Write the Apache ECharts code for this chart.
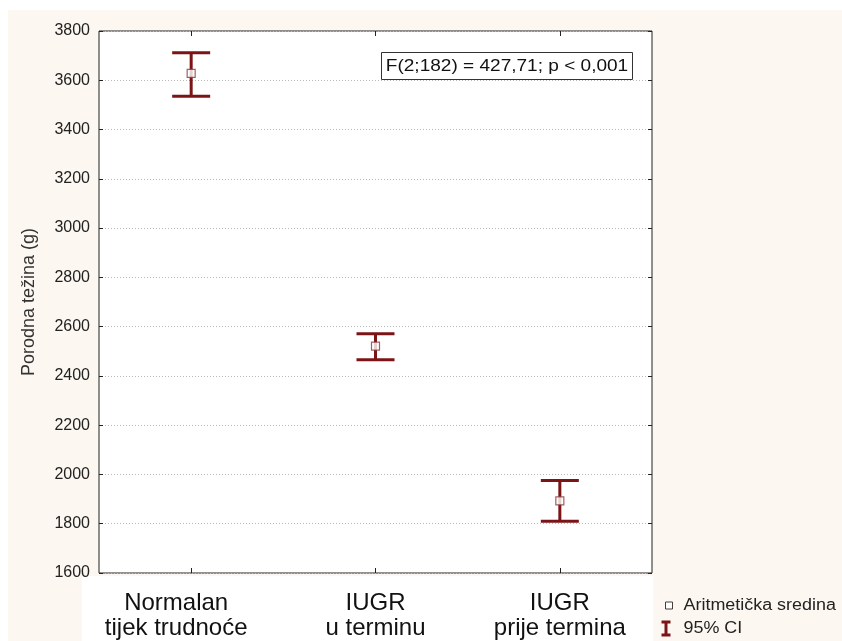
<!DOCTYPE html>
<html>
<head>
<meta charset="utf-8">
<script src="https://cdn.jsdelivr.net/npm/echarts@6/dist/echarts.min.js"></script>
<style>
  html, body { margin: 0; padding: 0; background: #fff; }
  #chart { width: 842px; height: 641px; }
</style>
</head>
<body>
<div id="chart"></div>
<script>
// groups on the x axis
const categories = ['Normalan\ntijek trudnoće', 'IUGR\nu terminu', 'IUGR\nprije termina']
// mean birth weight (g) and 95% CI bounds
const means = [3628, 2521, 1893]
const lower = [3535, 2466, 1810]
const upper = [3712, 2571, 1975]
// y axis range
const yMin = 1600
const yMax = 3800
const yStep = 200

const barColor = '#7a1416'
const cream = '#fcf8f1'
const font = 'Arial, "Liberation Sans", sans-serif'

const chart = echarts.init(document.getElementById('chart'))

const ciData = categories.map((c, i) => [i, lower[i], upper[i]])
// first label sits a bit left of its tick in the original
const xLabels = categories.map((c, i) => i === 0 ? { value: c, textStyle: { padding: [0, 30, 0, 0] } } : c)

const option = {
  backgroundColor: cream,
  animation: false,
  textStyle: { fontFamily: font },
  grid: {
    left: 99,
    right: 190,
    top: 31,
    bottom: 68,
    show: true,
    backgroundColor: '#fff',
    borderColor: '#222',
    borderWidth: 1
  },
  xAxis: [
    {
      type: 'category',
      data: xLabels,
      position: 'bottom',
      axisLine: { show: false },
      axisTick: { show: true, inside: true, alignWithLabel: true, length: 5, lineStyle: { color: '#222' } },
      axisLabel: { interval: 0, fontSize: 24, color: '#111', lineHeight: 25, margin: 18 },
      splitLine: { show: false }
    },
    {
      type: 'category',
      data: categories,
      position: 'top',
      axisLine: { show: false },
      axisTick: { show: true, inside: true, alignWithLabel: true, length: 5, lineStyle: { color: '#222' } },
      axisLabel: { show: false },
      splitLine: { show: false }
    }
  ],
  yAxis: [
    {
      type: 'value',
      min: yMin,
      max: yMax,
      interval: yStep,
      name: 'Porodna težina (g)',
      nameLocation: 'middle',
      nameGap: 61,
      nameTextStyle: { fontSize: 18, color: '#333' },
      axisLine: { show: false },
      axisTick: { show: true, inside: true, length: 4, lineStyle: { color: '#222' } },
      axisLabel: { fontSize: 16, color: '#222', margin: 9, formatter: v => String(v) },
      splitLine: { show: true, lineStyle: { color: '#b8b8b8', type: [1, 2], width: 1 } }
    },
    {
      type: 'value',
      min: yMin,
      max: yMax,
      interval: yStep,
      position: 'right',
      axisLine: { show: false },
      axisTick: { show: true, inside: true, length: 4, lineStyle: { color: '#222' } },
      axisLabel: { show: false },
      splitLine: { show: false }
    }
  ],
  series: [
    {
      name: '95% CI',
      type: 'custom',
      z: 3,
      data: ciData,
      renderItem: (params, api) => {
        const x = api.value(0)
        const lo = api.coord([x, api.value(1)])
        const hi = api.coord([x, api.value(2)])
        const hw = 19
        const style = { stroke: barColor, lineWidth: 3 }
        return {
          type: 'group',
          children: [
            { type: 'line', shape: { x1: lo[0], y1: lo[1], x2: hi[0], y2: hi[1] }, style },
            { type: 'line', shape: { x1: hi[0] - hw, y1: hi[1], x2: hi[0] + hw, y2: hi[1] }, style },
            { type: 'line', shape: { x1: lo[0] - hw, y1: lo[1], x2: lo[0] + hw, y2: lo[1] }, style }
          ]
        }
      }
    },
    {
      name: 'Aritmetička sredina',
      type: 'scatter',
      z: 5,
      data: means.map((m, i) => [i, m]),
      symbol: 'rect',
      symbolSize: 8,
      itemStyle: { color: '#fff', borderColor: '#8a3a3a', borderWidth: 1.2 }
    }
  ],
  graphic: [
    // white page margins and label strip
    { type: 'rect', z: -10, shape: { x: 0, y: 0, width: 842, height: 10 }, style: { fill: '#fff' } },
    { type: 'rect', z: -10, shape: { x: 0, y: 0, width: 8, height: 641 }, style: { fill: '#fff' } },
    { type: 'rect', z: -10, shape: { x: 82, y: 576, width: 571, height: 65 }, style: { fill: '#fff' } },
    // statistic box
    {
      type: 'group',
      left: 381,
      top: 52,
      z: 10,
      children: [
        { type: 'rect', shape: { x: 0, y: 0, width: 251, height: 27 }, style: { fill: '#fff', stroke: '#333', lineWidth: 1 } },
        {
          type: 'text', x: 125.5, y: 14, scaleX: 1.12,
          style: { text: 'F(2;182) = 427,71; p < 0,001', fontSize: 17, fill: '#111', align: 'center', verticalAlign: 'middle', fontFamily: font }
        }
      ]
    },
    // legend
    {
      type: 'group',
      left: 659,
      top: 598,
      z: 10,
      children: [
        { type: 'rect', shape: { x: 4, y: 3, width: 7, height: 7 }, style: { fill: '#fff', stroke: '#4a3a3a', lineWidth: 1 } },
        {
          type: 'text', x: 22, y: 7, scaleX: 1.12,
          style: { text: 'Aritmetička sredina', fontSize: 16, fill: '#222', verticalAlign: 'middle', fontFamily: font }
        },
        { type: 'polyline', shape: { points: [[0, 23], [9, 23]] }, style: { stroke: barColor, lineWidth: 3 } },
        { type: 'polyline', shape: { points: [[4.5, 23], [4.5, 36]] }, style: { stroke: barColor, lineWidth: 3 } },
        { type: 'polyline', shape: { points: [[0, 36], [9, 36]] }, style: { stroke: barColor, lineWidth: 3 } },
        {
          type: 'text', x: 22, y: 30, scaleX: 1.12,
          style: { text: '95% CI', fontSize: 16, fill: '#222', verticalAlign: 'middle', fontFamily: font }
        }
      ]
    }
  ]
}

chart.setOption(option)
</script>
</body>
</html>
